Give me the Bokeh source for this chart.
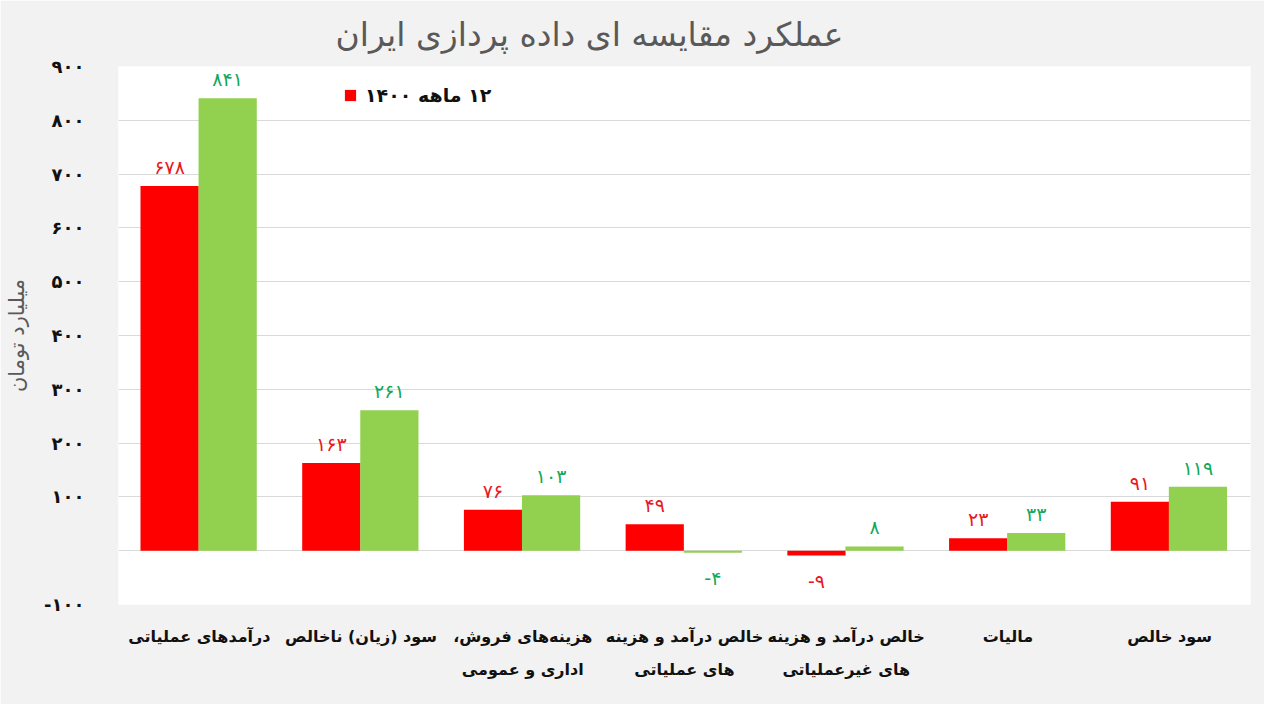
from bokeh.plotting import figure
from bokeh.models import ColumnDataSource, FixedTicker, Label, Legend, LegendItem, Range1d
from bokeh.embed import file_html
from bokeh.resources import INLINE

RLE, PDF = "\u202b", "\u202c"

categories = [
    "درآمدهای عملیاتی",
    "سود (زیان) ناخالص",
    "هزینه‌های فروش،\nاداری و عمومی",
    "خالص درآمد و هزینه\nهای عملیاتی",
    "خالص درآمد و هزینه\nهای غیرعملیاتی",
    "مالیات",
    "سود خالص",
]
s1400 = [678, 163, 76, 49, -9, 23, 91]
s1401 = [841, 261, 103, -4, 8, 33, 119]
legend_1400 = "۱۲ ماهه ۱۴۰۰"
title_text = "عملکرد مقایسه ای داده پردازی ایران"
y_title = "میلیارد تومان"
y_ticks = [-100, 0, 100, 200, 300, 400, 500, 600, 700, 800, 900]

FA = str.maketrans("0123456789", "۰۱۲۳۴۵۶۷۸۹")
def fa(n):
    return str(n).translate(FA)

def rtl(s):
    return "\n".join(RLE + line + PDF for line in s.split("\n"))

FONT = "DejaVu Sans"
RED = "#ff0000"
GREEN = "#92d050"
RED_T = "#e8191d"
GREEN_T = "#12a85a"

n = len(categories)
idx = list(range(n))
x_red = [i + 0.316 for i in idx]
x_green = [i + 0.675 for i in idx]

src_red = ColumnDataSource(dict(x=x_red, top=s1400))
src_green = ColumnDataSource(dict(x=x_green, top=s1401))

p = figure(
    width=1264, height=704,
    x_range=Range1d(0, n), y_range=Range1d(-100, 900),
    output_backend="svg", toolbar_location=None,
    background_fill_color="white", border_fill_color="#f2f2f2",
    min_border_left=118, min_border_right=14, min_border_top=66, min_border_bottom=100,
)
p.outline_line_color = None

r_red = p.vbar(x="x", top="top", bottom=0, width=0.36, source=src_red,
               fill_color=RED, line_color=None)
r_green = p.vbar(x="x", top="top", bottom=0, width=0.36, source=src_green,
                 fill_color=GREEN, line_color=None)

for xs, vals, col in ((x_red, s1400, RED_T), (x_green, s1401, GREEN_T)):
    for xv, v in zip(xs, vals):
        p.add_layout(Label(
            x=xv, y=v, text=fa(v), text_align="center",
            text_baseline="bottom" if v >= 0 else "top",
            y_offset=8 if v >= 0 else -14,
            text_color=col, text_font=FONT, text_font_size="19px",
        ))

# title
p.title.text = title_text
p.title.text_font = FONT
p.title.text_font_size = "33px"
p.title.text_font_style = "normal"
p.title.text_color = "#595959"
p.title.align = "left"
p.title.offset = 217
p.title.standoff = 25

# axes
p.xaxis.ticker = FixedTicker(ticks=[i + 0.5 for i in idx])
p.xaxis.major_label_overrides = {i + 0.5: rtl(c) for i, c in zip(idx, categories)}
p.xaxis.major_label_text_font = FONT
p.xaxis.major_label_text_font_size = "16px"
p.xaxis.major_label_text_font_style = "bold"
p.xaxis.major_label_text_color = "#111111"
p.xaxis.major_label_text_line_height = 1.75
p.xaxis.major_label_standoff = 16
p.xaxis.axis_line_color = None
p.xaxis.major_tick_line_color = None
p.xaxis.minor_tick_line_color = None

p.yaxis.ticker = FixedTicker(ticks=y_ticks)
p.yaxis.major_label_overrides = {t: ("" if t == 0 else fa(t)) for t in y_ticks}
p.yaxis.major_label_text_font = FONT
p.yaxis.major_label_text_font_size = "18px"
p.yaxis.major_label_text_font_style = "bold"
p.yaxis.major_label_text_color = "#111111"
p.yaxis.major_label_standoff = 28
p.yaxis.axis_line_color = None
p.yaxis.major_tick_line_color = None
p.yaxis.minor_tick_line_color = None
p.yaxis.axis_label = y_title
p.yaxis.axis_label_text_font = FONT
p.yaxis.axis_label_text_font_size = "21px"
p.yaxis.axis_label_text_font_style = "normal"
p.yaxis.axis_label_text_color = "#595959"
p.yaxis.axis_label_standoff = 12

p.xgrid.grid_line_color = None
p.ygrid.grid_line_color = "#d9d9d9"
p.ygrid.grid_line_width = 1

legend = Legend(items=[LegendItem(label=rtl(legend_1400), renderers=[r_red])],
                location=(225, 498), orientation="horizontal",
                background_fill_alpha=0, border_line_color=None,
                glyph_width=14, glyph_height=14, padding=4, margin=0,
                label_text_font=FONT, label_text_font_size="19px",
                label_text_font_style="bold", label_text_color="#111111",
                label_standoff=8)
p.add_layout(legend)

open("out.html", "w").write(file_html(p, INLINE))
